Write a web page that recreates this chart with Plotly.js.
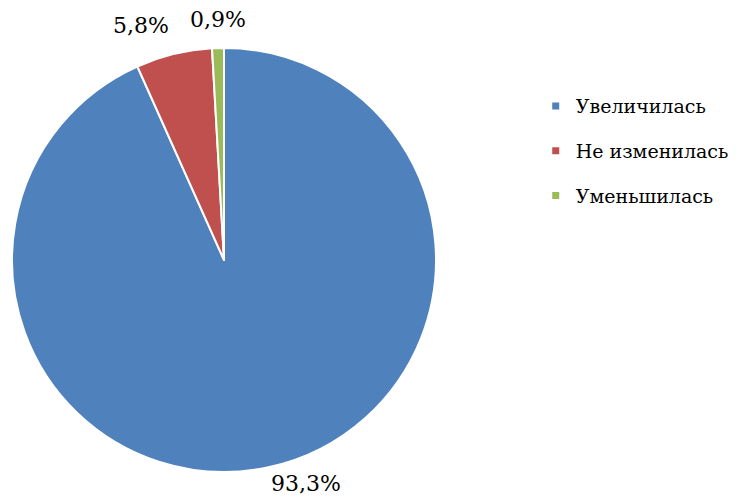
<!DOCTYPE html>
<html>
<head>
<meta charset="utf-8">
<script src="https://cdn.plot.ly/plotly-3.0.1.min.js"></script>
<style>html,body{margin:0;padding:0;background:#fff;}#chart{width:742px;height:501px;}</style>
</head>
<body>
<div id="chart"></div>
<script>
const categories = ["Увеличилась", "Не изменилась", "Уменьшилась"];
const values = [93.3, 5.8, 0.9];
const valueLabels = ["93,3%", "5,8%", "0,9%"];
const colors = ["#4F81BD", "#C0504D", "#9BBB59"];
const serif = "DejaVu Serif";

const W = 742, H = 501;
const dom = {x: [0.0162, 0.5876], y: [0.0579, 0.9042]};

// label positions derived from the slice angles (clockwise from 12 o'clock)
const total = values.reduce((a, b) => a + b, 0);
const cxPx = (dom.x[0] + dom.x[1]) / 2 * W;
const cyPx = (1 - (dom.y[0] + dom.y[1]) / 2) * H;
const rPx = Math.min((dom.x[1] - dom.x[0]) * W, (dom.y[1] - dom.y[0]) * H) / 2;
let cum = 0;
const annotations = values.map((v, i) => {
  const mid = (cum + v / 2) / total * 2 * Math.PI;
  cum += v;
  const s = Math.sin(mid), c = Math.cos(mid);
  const R = rPx + (c > 0 ? 14 : 2);
  const px = cxPx + R * s, py = cyPx - R * c;
  return {
    text: valueLabels[i], showarrow: false,
    xref: "paper", yref: "paper",
    x: px / W, y: 1 - py / H,
    xanchor: Math.abs(s) < 0.1 ? "center" : (s > 0 ? "left" : "right"),
    yanchor: c > 0 ? "bottom" : "top",
    font: {family: serif, size: 22, color: "#000"}
  };
});

const traces = [{
  type: "pie",
  labels: categories,
  values: values,
  textinfo: "none",
  sort: false,
  direction: "clockwise",
  rotation: 0,
  marker: {colors: colors, line: {color: "#ffffff", width: 2}},
  domain: dom,
  showlegend: false,
  hoverinfo: "label+percent"
}];
categories.forEach((c, i) => {
  traces.push({
    type: "scatter", mode: "markers", x: [null], y: [null], name: c,
    legendgroup: "g" + i,
    marker: {symbol: "square", size: 7, color: colors[i]},
    hoverinfo: "skip"
  });
});

const layout = {
  width: W, height: H,
  margin: {l: 0, r: 0, t: 0, b: 0, autoexpand: false},
  font: {family: serif, size: 19, color: "#000"},
  paper_bgcolor: "#fff", plot_bgcolor: "#fff",
  xaxis: {visible: false}, yaxis: {visible: false},
  annotations: annotations,
  showlegend: true,
  legend: {
    x: 0.722, y: 0.826, xanchor: "left", yanchor: "top",
    font: {family: serif, size: 19, color: "#000"},
    tracegroupgap: 17, itemwidth: 30
  }
};
Plotly.newPlot("chart", traces, layout, {staticPlot: true});
</script>
</body>
</html>
